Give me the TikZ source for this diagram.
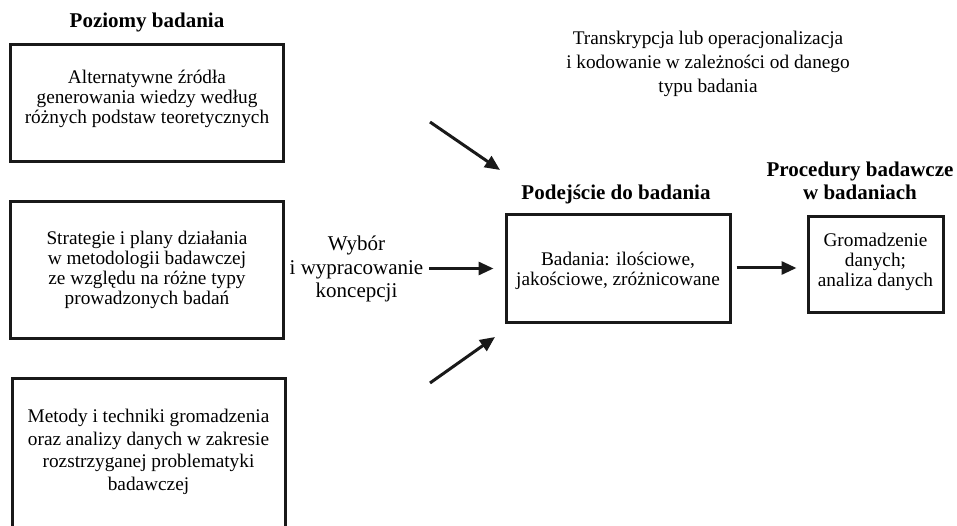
\documentclass[tikz,border=0pt]{standalone}
\usepackage{fontspec}
\setmainfont{Liberation Serif}
\usetikzlibrary{arrows.meta}
\begin{document}
\begin{tikzpicture}[x=1pt,y=-1pt,
  box/.style={draw=black!90,line width=3pt,inner sep=0pt},
  txt/.style={align=center,inner sep=0pt,font=\fontsize{19.3}{20}\selectfont},
  ttl/.style={align=center,inner sep=0pt,font=\fontsize{21}{23}\selectfont\bfseries},
  arr/.style={line width=3pt,draw=black!90,-{Triangle[length=15pt,width=13pt]}}]
\useasboundingbox (0,0) rectangle (957,526);
% titles
\node[ttl,anchor=base] (t1) at (147,28) {Poziomy badania};
\node[ttl,anchor=base] (t2) at (616,200) {Podejście do badania};
\node[ttl] (t3) at (860,181) {Procedury badawcze\\w badaniach};
\node[txt,font=\fontsize{19.3}{24}\selectfont] (top) at (708,64) {Transkrypcja lub operacjonalizacja\\i kodowanie w zależności od danego\\typu badania};
% left boxes
\node[box,minimum width=273pt,minimum height=117pt] (b1) at (146.5,103.5) {};
\node[txt] (b1t) at (147,99) {Alternatywne źródła\\generowania wiedzy według\\różnych podstaw teoretycznych};
\node[box,minimum width=273pt,minimum height=136pt] (b2) at (146.5,270) {};
\node[txt] (b2t) at (147,270) {Strategie i plany działania\\ w metodologii badawczej\\ze względu na różne typy\\prowadzonych badań};
\node[box,minimum width=273pt,minimum height=154pt] (b3) at (148.5,455) {};
\node[txt,font=\fontsize{19.3}{22.7}\selectfont] (b3t) at (148.5,452) {Metody i techniki gromadzenia\\oraz analizy danych w zakresie\\rozstrzyganej problematyki\\badawczej};
% middle label
\node[txt,font=\fontsize{21}{23.5}\selectfont] (wyb) at (356.5,269) {Wybór\\i wypracowanie\\koncepcji};
% centre and right boxes
\node[box,minimum width=224pt,minimum height=107pt] (pod) at (618,268.5) {};
\node[txt] (podt) at (618,271) {Badania: ilościowe,\\jakościowe, zróżnicowane};
\node[box,minimum width=135pt,minimum height=95pt] (proc) at (875.5,264.5) {};
\node[txt] (proct) at (875.5,262) {Gromadzenie\\danych;\\analiza danych};
% arrows
\coordinate (d1s) at (430,122);
\coordinate (d1e) at (500,170);
\coordinate (d2s) at (430,383);
\coordinate (d2e) at (495,337);
\draw[arr] (d1s) -- (d1e);
\draw[arr] (d2s) -- (d2e);
\draw[arr,shorten <=6pt,shorten >=11pt] (wyb.east |- pod.west) -- (pod.west);
\draw[arr,shorten <=5pt,shorten >=10pt] (pod.east |- 0,268) -- (proc.west |- 0,268);
\end{tikzpicture}
\end{document}
